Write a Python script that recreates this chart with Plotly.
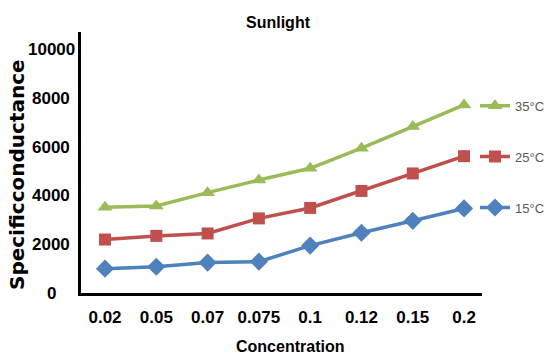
import plotly.graph_objects as go

# Concentration categories and specific conductance readings under sunlight
concentration = ["0.02", "0.05", "0.07", "0.075", "0.1", "0.12", "0.15", "0.2"]
cond_15C = [1000, 1080, 1250, 1290, 1950, 2480, 2970, 3480]
cond_25C = [2200, 2350, 2450, 3070, 3500, 4200, 4920, 5630]
cond_35C = [3530, 3580, 4130, 4650, 5130, 5960, 6850, 7740]
y_ticks = [0, 2000, 4000, 6000, 8000, 10000]

series = [
    ("35°C", cond_35C, "#9BBB59", "triangle-up", 13),
    ("25°C", cond_25C, "#C0504D", "square", 12),
    ("15°C", cond_15C, "#4F81BD", "diamond", 14),
]

SANS = "Liberation Sans, Arial, sans-serif"
L, R, T, B = 81, 64, 32, 65
PLOT_W = 546 - L - R

fig = go.Figure()
for i, (name, vals, color, symbol, msize) in enumerate(series):
    fig.add_trace(go.Scatter(
        x=concentration, y=vals, name=name, mode="lines+markers",
        line=dict(color=color, width=3.5),
        marker=dict(symbol=symbol, size=msize, color=color),
        legendgroup=f"g{i}",
    ))

# value-axis labels, centred in a column left of the axis line
tick_annotations = [
    dict(text=f"<b>{v}</b>", xref="paper", yref="y", x=-30 / PLOT_W, y=v,
         xanchor="center", yanchor="middle", showarrow=False,
         font=dict(family=SANS, size=17, color="black"))
    for v in y_ticks
]

fig.update_layout(
    width=546, height=358,
    margin=dict(l=L, r=R, t=T, b=B, autoexpand=False),
    paper_bgcolor="white", plot_bgcolor="white",
    showlegend=True,
    legend=dict(
        x=(475 - L) / PLOT_W, y=0.775, xanchor="left", yanchor="top",
        font=dict(family=SANS, size=13, color="#595959"),
        tracegroupgap=31, itemwidth=30, bgcolor="rgba(0,0,0,0)",
    ),
    title=dict(
        text="<b>Sunlight</b>", x=278 / 546, xref="container", xanchor="center",
        y=1 - 22 / 358, yref="container", yanchor="middle",
        font=dict(family=SANS, size=16, color="black"),
    ),
    annotations=tick_annotations + [
        dict(text="<b>Specificconductance</b>", textangle=-90,
             xref="paper", yref="paper", x=-64 / PLOT_W, y=0.452,
             xanchor="center", yanchor="middle", showarrow=False,
             font=dict(family="DejaVu Sans, Verdana, sans-serif", size=20, color="black")),
        dict(text="<b>Concentration</b>",
             xref="paper", yref="paper", x=(290 - L) / PLOT_W, y=-53 / 261,
             xanchor="center", yanchor="middle", showarrow=False,
             font=dict(family=SANS, size=16, color="black")),
    ],
)

fig.update_xaxes(
    type="category", range=[-0.468, 7.35],
    showline=True, linecolor="black", linewidth=3,
    showgrid=False, ticks="", ticklabelstandoff=7,
    tickfont=dict(family=SANS, size=17, color="black"),
    tickprefix="<b>", ticksuffix="</b>",
)
fig.update_yaxes(
    range=[0, 10740], tickvals=y_ticks, showticklabels=False,
    showline=True, linecolor="black", linewidth=3,
    showgrid=False, zeroline=False, ticks="",
)

fig.write_html("out.html")
